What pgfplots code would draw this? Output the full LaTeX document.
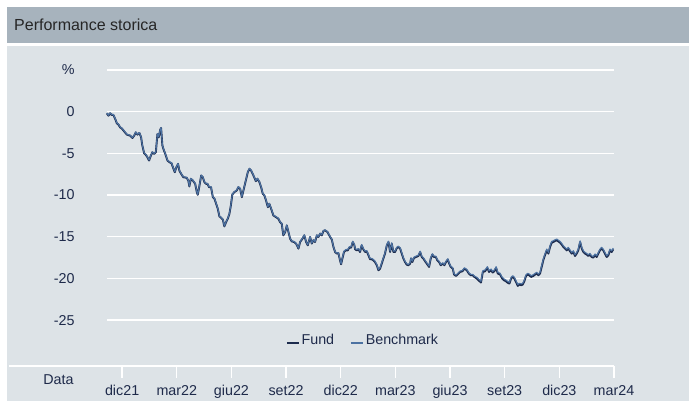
\documentclass[border=0pt]{standalone}
\usepackage{pgfplots}
\pgfplotsset{compat=1.18}
\usepackage{pgfplotstable}
\usepackage{fontspec}
\setmainfont{Liberation Sans}
\definecolor{panel}{HTML}{DDE3E7}
\definecolor{titlebar}{HTML}{A7B3BD}
\definecolor{navy}{HTML}{1E2A4A}
\definecolor{fundc}{HTML}{1D2C4E}
\definecolor{benchc}{HTML}{4C72A2}
\newcommand\ft{\fontsize{14.3bp}{16bp}\selectfont}
\pgfplotstableread{
m f b
-0.84 -0.20 -0.15
-0.75 -0.48 -0.43
-0.66 -0.20 -0.15
-0.57 -0.39 -0.34
-0.48 -0.39 -0.34
-0.38 -0.87 -0.82
-0.29 -1.40 -1.35
-0.20 -1.55 -1.50
-0.11 -1.88 -1.83
-0.02 -2.00 -1.95
0.11 -2.36 -2.31
0.26 -2.75 -2.70
0.44 -2.87 -2.82
0.57 -3.15 -3.10
0.66 -2.87 -2.82
0.75 -2.48 -2.43
0.84 -2.75 -2.70
0.95 -2.55 -2.50
1.04 -3.07 -3.02
1.11 -4.07 -4.02
1.21 -4.99 -4.94
1.30 -5.18 -5.13
1.39 -5.47 -5.42
1.48 -5.86 -5.81
1.58 -5.26 -5.21
1.66 -4.87 -4.82
1.76 -5.06 -5.01
1.85 -4.87 -4.82
1.94 -2.67 -2.62
2.01 -3.07 -3.02
2.09 -2.19 -2.14
2.14 -1.95 -1.90
2.21 -4.07 -4.02
2.30 -4.67 -4.62
2.40 -5.26 -5.21
2.49 -5.86 -5.81
2.60 -6.06 -6.01
2.71 -6.18 -6.13
2.82 -6.85 -6.80
2.89 -7.26 -7.21
2.98 -6.66 -6.61
3.07 -6.26 -6.21
3.14 -7.06 -7.01
3.24 -7.45 -7.40
3.36 -7.86 -7.81
3.55 -7.93 -7.88
3.64 -8.33 -8.28
3.69 -8.97 -8.92
3.77 -8.05 -8.00
3.88 -8.25 -8.20
4.01 -8.65 -8.60
4.10 -9.65 -9.60
4.15 -9.97 -9.92
4.23 -9.05 -9.00
4.34 -7.66 -7.61
4.43 -7.86 -7.81
4.52 -8.46 -8.41
4.61 -8.65 -8.60
4.68 -8.65 -8.60
4.77 -9.05 -9.00
4.88 -9.05 -9.00
4.98 -10.25 -10.20
5.07 -10.44 -10.39
5.16 -11.04 -10.99
5.25 -11.64 -11.59
5.34 -12.56 -12.51
5.43 -12.71 -12.66
5.53 -12.95 -12.90
5.61 -13.76 -13.71
5.71 -13.24 -13.19
5.80 -12.84 -12.79
5.89 -12.24 -12.19
5.97 -11.24 -11.19
6.05 -9.93 -9.88
6.16 -9.65 -9.60
6.29 -9.45 -9.40
6.38 -9.05 -9.00
6.48 -9.25 -9.20
6.57 -10.25 -10.20
6.66 -9.45 -9.40
6.79 -8.25 -8.20
6.90 -7.26 -7.21
6.99 -6.85 -6.80
7.08 -7.06 -7.01
7.21 -7.66 -7.61
7.34 -8.33 -8.28
7.43 -8.05 -8.00
7.54 -8.46 -8.41
7.63 -9.05 -9.00
7.72 -9.84 -9.79
7.81 -10.05 -10.00
7.90 -10.65 -10.60
8.00 -11.45 -11.40
8.08 -11.04 -10.99
8.18 -11.64 -11.59
8.30 -12.44 -12.39
8.44 -12.64 -12.59
8.58 -12.84 -12.79
8.67 -13.24 -13.19
8.76 -13.43 -13.38
8.85 -14.83 -14.78
8.95 -14.44 -14.39
9.04 -13.64 -13.59
9.13 -14.44 -14.39
9.22 -15.23 -15.18
9.31 -15.55 -15.50
9.44 -15.63 -15.58
9.55 -15.83 -15.78
9.68 -16.42 -16.37
9.77 -15.63 -15.58
9.90 -15.23 -15.18
10.00 -14.83 -14.78
10.10 -15.63 -15.58
10.19 -16.03 -15.98
10.32 -15.03 -14.98
10.41 -15.82 -15.77
10.50 -15.42 -15.37
10.59 -15.63 -15.58
10.69 -14.83 -14.78
10.77 -15.03 -14.98
10.87 -14.63 -14.58
10.96 -14.83 -14.78
11.05 -14.31 -14.26
11.14 -14.23 -14.18
11.27 -14.43 -14.38
11.42 -15.03 -14.98
11.51 -15.34 -15.29
11.60 -16.23 -16.18
11.69 -16.83 -16.78
11.78 -17.02 -16.97
11.87 -16.95 -16.90
11.96 -17.82 -17.77
12.02 -18.30 -18.25
12.09 -17.62 -17.52
12.18 -16.83 -16.73
12.28 -16.63 -16.53
12.39 -16.63 -16.53
12.47 -16.30 -16.20
12.57 -16.30 -16.20
12.66 -15.63 -15.53
12.75 -16.03 -15.93
12.79 -16.51 -16.41
12.88 -16.63 -16.53
12.97 -16.51 -16.41
13.06 -16.83 -16.73
13.15 -16.03 -15.93
13.24 -16.51 -16.41
13.34 -16.83 -16.73
13.43 -16.75 -16.65
13.52 -17.22 -17.12
13.61 -17.70 -17.60
13.70 -17.70 -17.60
13.79 -17.82 -17.72
13.88 -18.03 -17.93
13.98 -18.42 -18.32
14.07 -19.02 -18.92
14.16 -18.82 -18.72
14.25 -18.22 -18.12
14.34 -17.62 -17.52
14.43 -17.02 -16.92
14.53 -16.03 -15.93
14.62 -15.63 -15.53
14.71 -16.83 -16.73
14.80 -15.83 -15.73
14.89 -16.83 -16.73
14.98 -16.83 -16.73
15.08 -16.35 -16.25
15.16 -16.23 -16.13
15.26 -16.42 -16.32
15.35 -17.02 -16.92
15.44 -17.62 -17.52
15.53 -18.03 -17.93
15.62 -18.34 -18.24
15.71 -18.42 -18.32
15.81 -18.22 -18.12
15.86 -17.62 -17.52
15.93 -18.03 -17.93
16.02 -17.55 -17.45
16.13 -17.43 -17.33
16.26 -17.31 -17.21
16.36 -16.83 -16.73
16.45 -17.43 -17.33
16.54 -17.62 -17.52
16.63 -17.94 -17.84
16.76 -18.34 -18.24
16.85 -18.62 -18.52
16.94 -17.62 -17.52
17.03 -17.14 -17.04
17.12 -17.43 -17.33
17.22 -17.43 -17.33
17.30 -17.82 -17.72
17.40 -18.03 -17.93
17.49 -18.42 -18.32
17.60 -18.22 -18.12
17.69 -18.42 -18.32
17.78 -18.03 -17.93
17.88 -17.74 -17.64
17.95 -18.22 -18.12
18.04 -18.62 -18.52
18.15 -18.82 -18.72
18.22 -19.53 -19.43
18.33 -19.70 -19.60
18.46 -19.41 -19.31
18.55 -19.22 -19.12
18.68 -19.14 -19.04
18.79 -18.82 -18.72
18.92 -19.02 -18.92
19.03 -19.41 -19.31
19.14 -19.62 -19.52
19.25 -19.62 -19.52
19.34 -19.82 -19.72
19.47 -20.01 -19.86
19.56 -20.21 -20.06
19.70 -20.49 -20.34
19.80 -19.22 -19.07
19.92 -19.14 -18.99
20.05 -18.74 -18.59
20.14 -19.22 -19.07
20.25 -19.02 -18.87
20.34 -19.29 -19.14
20.43 -19.14 -18.99
20.53 -18.74 -18.59
20.62 -19.41 -19.26
20.75 -19.53 -19.38
20.84 -19.94 -19.79
20.96 -20.21 -20.06
21.06 -20.33 -20.18
21.15 -20.49 -20.34
21.26 -20.61 -20.46
21.35 -20.01 -19.86
21.44 -19.82 -19.67
21.53 -20.01 -19.86
21.62 -20.42 -20.27
21.72 -20.89 -20.74
21.80 -20.73 -20.58
21.90 -20.81 -20.66
21.99 -20.73 -20.58
22.08 -20.33 -20.18
22.17 -19.70 -19.55
22.27 -19.53 -19.38
22.35 -19.62 -19.47
22.45 -19.82 -19.67
22.57 -19.70 -19.55
22.67 -19.53 -19.38
22.76 -19.41 -19.26
22.85 -19.62 -19.47
22.94 -19.41 -19.26
23.03 -18.62 -18.47
23.12 -17.82 -17.67
23.21 -17.22 -17.07
23.31 -16.63 -16.48
23.40 -17.02 -16.87
23.49 -16.23 -16.08
23.58 -15.71 -15.56
23.67 -15.63 -15.48
23.76 -15.51 -15.36
23.86 -15.43 -15.28
23.94 -15.55 -15.40
24.04 -15.71 -15.56
24.13 -15.94 -15.79
24.22 -16.23 -16.08
24.31 -16.42 -16.27
24.41 -16.63 -16.48
24.49 -16.42 -16.27
24.59 -16.75 -16.60
24.68 -17.02 -16.87
24.77 -16.83 -16.68
24.86 -17.31 -17.16
24.95 -17.02 -16.87
25.04 -16.63 -16.48
25.14 -15.63 -15.48
25.23 -16.42 -16.27
25.32 -16.83 -16.68
25.41 -17.02 -16.87
25.50 -17.14 -16.99
25.59 -17.31 -17.16
25.68 -17.14 -16.99
25.77 -17.43 -17.28
25.86 -17.50 -17.35
25.96 -17.22 -17.07
26.05 -17.43 -17.28
26.14 -17.02 -16.87
26.23 -16.63 -16.48
26.32 -16.42 -16.27
26.41 -16.63 -16.48
26.50 -17.02 -16.87
26.60 -17.43 -17.28
26.69 -17.22 -17.07
26.78 -16.63 -16.48
26.87 -16.83 -16.68
26.96 -16.51 -16.36
}\perf
\begin{document}
\begin{tikzpicture}
% background
\fill[white] (0bp,0bp) rectangle (689bp,401bp);
\fill[panel] (7bp,0bp) rectangle (689bp,355bp);
\fill[titlebar] (7bp,358bp) rectangle (689bp,394bp);
\node[anchor=base west, inner sep=0pt, text=black!85, font=\fontsize{16bp}{18bp}\selectfont] at (14bp,370bp) {Performance storica};
\begin{axis}[
  at={(107bp,35bp)}, anchor=south west,
  scale only axis, width=507bp, height=296bp,
  xmin=-0.83, xmax=27, ymin=-30.5, ymax=5,
  axis line style={draw=none},
  xtick={0,3,...,27},
  xticklabels={dic21,mar22,giu22,set22,dic22,mar23,giu23,set23,dic23,mar24},
  ytick={-25,-20,...,5},
  yticklabels={-25,-20,-15,-10,-5,0,\%},
  xtick pos=bottom,
  ymajorgrids, grid style={white, line width=1.4bp},
  tick align=outside, major tick length=12bp,
  xtick style={draw=white, line width=1.3bp},
  ytick style={draw=none},
  tick label style={font=\ft, text=navy},
  yticklabel style={xshift=-17bp},
  xticklabel style={yshift=-4bp},
  legend style={at={(0.505,0.088)}, anchor=center, draw=none, fill=none,
    font=\ft, text=navy, legend columns=2,
    /tikz/every even column/.append style={column sep=14bp}},
  legend image code/.code={\draw[#1, line width=1.6bp] (0bp,-3bp) -- (12bp,-3bp);},
  clip=false,
]
\addplot[fundc, line width=1.9bp, line join=round] table[x=m, y=f] {\perf};
\addlegendentry{Fund}
\addplot[benchc, line width=1.1bp, line join=round] table[x=m, y=b] {\perf};
\addlegendentry{Benchmark}
\end{axis}
\draw[white, line width=1.3bp] (9bp,35bp) -- (614bp,35bp);
\node[font=\ft, text=navy, anchor=base] at (58.5bp,17bp) {Data};
\end{tikzpicture}
\end{document}
